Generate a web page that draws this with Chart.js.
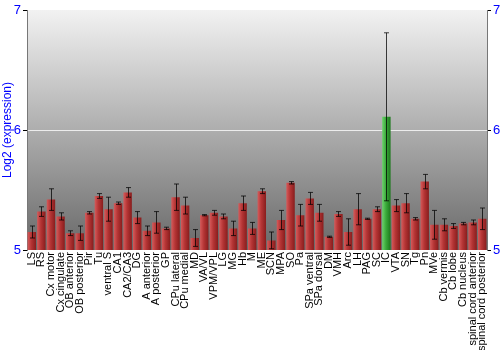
<!DOCTYPE html>
<html>
<head>
<meta charset="utf-8">
<script src="https://cdn.jsdelivr.net/npm/chart.js@4"></script>
<style>
  html, body { margin: 0; padding: 0; background: #fff; }
  #wrap { width: 500px; height: 350px; }
</style>
</head>
<body>
<div id="wrap"><canvas id="chart"></canvas></div>
<script>
// brain regions, in plot order
const regions = ['LS', 'RS', 'Cx motor', 'Cx cingulate', 'OB anterior', 'OB posterior', 'Pir', 'Tu',
    'ventral S', 'CA1', 'CA2/CA3', 'DG', 'A anterior', 'A posterior', 'GP', 'CPu lateral', 'CPu medial',
    'MD', 'VA/VL', 'VPM/VPL', 'LG', 'MG', 'Hb', 'M', 'ME', 'SCN', 'MPA', 'SO', 'Pa', 'SPa ventral',
    'SPa dorsal', 'DM', 'VMH', 'Arc', 'LH', 'PAG', 'SC', 'IC', 'VTA', 'SN', 'Tg', 'Pn', 'MVe',
    'Cb vermis', 'Cb lobe', 'Cb nucleus', 'spinal cord anterior', 'spinal cord posterior'];

const expression = [5.15, 5.32, 5.42, 5.28, 5.14, 5.14, 5.31, 5.45,
    5.34, 5.39, 5.48, 5.27, 5.16, 5.23, 5.18, 5.44, 5.37,
    5.10, 5.29, 5.31, 5.28, 5.18, 5.39, 5.18, 5.49, 5.08, 5.25, 5.56, 5.29, 5.43,
    5.31, 5.11, 5.30, 5.15, 5.34, 5.26, 5.34, 6.11, 5.37, 5.39, 5.26, 5.57, 5.21,
    5.21, 5.20, 5.22, 5.23, 5.26];

const errors = [0.05, 0.04, 0.09, 0.03, 0.02, 0.06, 0.01, 0.02,
    0.10, 0.01, 0.04, 0.05, 0.04, 0.09, 0.01, 0.11, 0.07,
    0.07, 0.005, 0.02, 0.02, 0.06, 0.06, 0.05, 0.02, 0.07, 0.08, 0.01, 0.09, 0.05,
    0.07, 0.005, 0.02, 0.11, 0.13, 0.005, 0.02, 0.70, 0.05, 0.08, 0.01, 0.06, 0.12,
    0.05, 0.02, 0.01, 0.02, 0.09];

const highlighted = 'IC';
const yTicks = [5, 6, 7];

function barFill(context) {
    const chart = context.chart;
    if (!chart.chartArea || !chart.scales.x) return '#a02828';
    const green = regions[context.dataIndex] === highlighted;
    const x = chart.scales.x.getPixelForValue(context.dataIndex);
    const g = chart.ctx.createLinearGradient(x - 4, 0, x + 4, 0);
    if (green) {
        g.addColorStop(0, '#6ad06a');
        g.addColorStop(0.45, '#3aaa3a');
        g.addColorStop(1, '#1e7a1e');
    } else {
        g.addColorStop(0, '#d45858');
        g.addColorStop(0.45, '#b43434');
        g.addColorStop(1, '#8a1e1e');
    }
    return g;
}

const backdrop = {
    id: 'backdrop',
    beforeDraw(chart) {
        const { ctx, chartArea: a } = chart;
        const g = ctx.createLinearGradient(0, a.top, 0, a.bottom);
        g.addColorStop(0, '#f2f2f2');
        g.addColorStop(1, '#696969');
        ctx.save();
        ctx.fillStyle = g;
        ctx.fillRect(a.left, a.top, a.right - a.left, a.bottom - a.top);
        ctx.restore();
    }
};

const errorBars = {
    id: 'errorBars',
    afterDatasetsDraw(chart) {
        const { ctx } = chart;
        const xs = chart.scales.x, ys = chart.scales.y;
        ctx.save();
        ctx.strokeStyle = 'rgba(0,0,0,0.75)';
        ctx.lineWidth = 1;
        expression.forEach((v, i) => {
            const x = Math.round(xs.getPixelForValue(i)) + 0.5;
            const top = ys.getPixelForValue(v + errors[i]);
            const bot = ys.getPixelForValue(v - errors[i]);
            ctx.beginPath();
            ctx.moveTo(x, top); ctx.lineTo(x, bot);
            ctx.moveTo(x - 2.5, top); ctx.lineTo(x + 2.5, top);
            ctx.moveTo(x - 2.5, bot); ctx.lineTo(x + 2.5, bot);
            ctx.stroke();
        });
        ctx.restore();
    }
};

const tickOpts = {
    color: '#0000ff',
    font: { family: 'Liberation Sans, Arial, sans-serif', size: 13 },
    padding: 2,
    autoSkip: false
};

new Chart(document.getElementById('chart'), {
    type: 'bar',
    data: {
        labels: regions,
        datasets: [{
            data: expression,
            backgroundColor: barFill,
            borderWidth: 0,
            barPercentage: 0.88,
            categoryPercentage: 1
        }]
    },
    options: {
        responsive: true,
        maintainAspectRatio: false,
        animation: false,
        layout: { padding: { top: 10, bottom: 0, left: 0, right: 0 } },
        plugins: { legend: { display: false }, tooltip: { enabled: false } },
        scales: {
            x: {
                grid: { display: false, drawTicks: false },
                border: { display: false },
                ticks: {
                    color: '#000',
                    font: { family: 'Liberation Sans, Arial, sans-serif', size: 11 },
                    minRotation: 90,
                    maxRotation: 90,
                    autoSkip: false,
                    padding: 2
                },
                afterFit(scale) { scale.height = 100; }
            },
            y: {
                position: 'left',
                min: 5, max: 7,
                afterBuildTicks(scale) { scale.ticks = yTicks.map(v => ({ value: v })); },
                grid: {
                    color: ctx => ctx.tick && ctx.tick.value === 6 ? '#ececec' : 'rgba(0,0,0,0)',
                    tickColor: '#000',
                    tickLength: 4,
                    lineWidth: 1
                },
                border: { color: '#777', width: 1 },
                ticks: tickOpts,
                title: {
                    display: true,
                    text: 'Log2 (expression)',
                    color: '#0000ff',
                    font: { family: 'Liberation Sans, Arial, sans-serif', size: 12 },
                    padding: 0
                },
                afterFit(scale) { scale.width = 27; }
            },
            y2: {
                position: 'right',
                min: 5, max: 7,
                afterBuildTicks(scale) { scale.ticks = yTicks.map(v => ({ value: v })); },
                grid: { drawOnChartArea: false, tickColor: '#000', tickLength: 4 },
                border: { color: '#777', width: 1 },
                ticks: tickOpts,
                afterFit(scale) { scale.width = 13; }
            }
        }
    },
    plugins: [backdrop, errorBars]
});
</script>
</body>
</html>
